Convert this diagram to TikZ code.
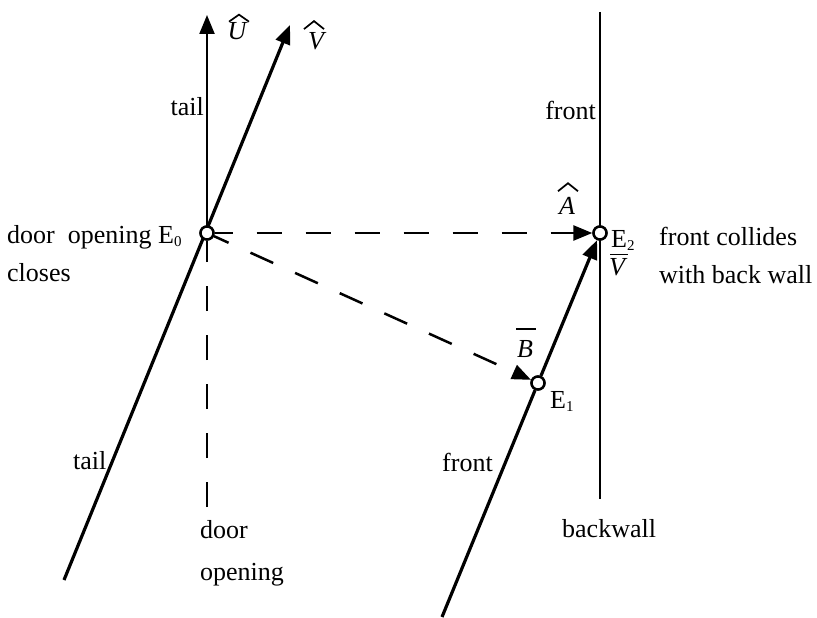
\documentclass[tikz,border=0pt]{standalone}
\usepackage{fontspec}
\setmainfont{Liberation Serif}
\usetikzlibrary{arrows.meta}
\newcommand\subd[1]{\raisebox{-0.3ex}{\fontsize{15}{15}\selectfont #1}}
\begin{document}
\begin{tikzpicture}[x=1pt,y=-1pt,
  font=\fontsize{26}{30}\selectfont,
  tip/.style={-{Triangle[length=19pt,width=15pt]}},
  thickline/.style={line width=3.2pt},
  thinline/.style={line width=2.2pt},
  dashline/.style={line width=2.5pt, dash pattern=on 25pt off 24pt},
  evt/.style={circle, draw, fill=white, line width=2.4pt, minimum size=13pt, inner sep=0pt},
  lbl/.style={inner sep=0pt},
  letter/.style={inner sep=0pt, font=\fontsize{26}{30}\selectfont\itshape},
  accent/.style={line width=1.7pt, line join=miter}]
\useasboundingbox (0,0) rectangle (817,618);
% coordinates
\coordinate (utop) at (207,15);
\coordinate (vtop) at (290,25);
\coordinate (vbot) at (64,580);
\coordinate (dbot) at (207,507);
\coordinate (fbot) at (442,617);
\coordinate (wtop) at (600,12);
\coordinate (wbot) at (600,499);
% events
\node[evt] (e0) at (207,233) {};
\node[evt] (e1) at (538,383) {};
\node[evt] (e2) at (600,233) {};
% lines
\draw[thinline] (wtop) -- (wbot);
\draw[thinline, tip] (e0.center) -- (utop);
\draw[thickline, tip] (vbot) -- (vtop);
\draw[dashline] (dbot) -- (e0);
\draw[dashline, dash phase=7pt, tip] (e0) -- (e2);
\draw[dashline, dash phase=9pt, tip] (e0) -- (e1);
\draw[thickline] (fbot) -- (e1);
\draw[thickline, tip] (e1) -- (e2);
% redraw events on top
\node[evt] at (e0) {};
\node[evt] at (e1) {};
\node[evt] at (e2) {};
% vector labels with hats and bars
\node[letter] (lu) at (237,31.5) {U};
\draw[accent, shift={(lu.north)}] (-8,-1) -- (2,-8) -- (12,-1);
\node[letter] (lv) at (316,41) {V};
\draw[accent, shift={(lv.north)}] (-12,-3) -- (-2,-11) -- (8,-3);
\node[letter] (la) at (567,206) {A};
\draw[accent, shift={(la.north)}] (-9,-6) -- (1,-14) -- (11,-6);
\node[letter] (lvb) at (617,267.5) {V};
\draw[accent, shift={(lvb.north)}] (-7,-4) -- (11,-4);
\node[letter] (lb) at (525,349) {B};
\draw[accent, shift={(lb.north)}] (-9,-11) -- (11,-11);
% text labels
\node[lbl, anchor=base east] (ltail1) at (204,115) {tail};
\node[lbl, anchor=base east] (lfront1) at (596,119) {front};
\node[lbl, anchor=base west] (ldoor1) at (7,243) {door\ \ opening E\subd{0}};
\node[lbl, anchor=base west] (lcloses) at (7,281) {closes};
\node[lbl, anchor=base west] (le2) at (611,247) {E\subd{2}};
\node[lbl, anchor=base west] (lcoll) at (659,245) {front collides};
\node[lbl, anchor=base west] (lwith) at (659,283) {with back wall};
\node[lbl, anchor=base west] (le1) at (550,408) {E\subd{1}};
\node[lbl, anchor=base west] (ltail2) at (73,469) {tail};
\node[lbl, anchor=base west] (lfront2) at (442,471) {front};
\node[lbl, anchor=base west] (ldoor2) at (200,538) {door};
\node[lbl, anchor=base west] (lopen) at (200,580) {opening};
\node[lbl, anchor=base west] (lback) at (562,537) {backwall};
\end{tikzpicture}
\end{document}
